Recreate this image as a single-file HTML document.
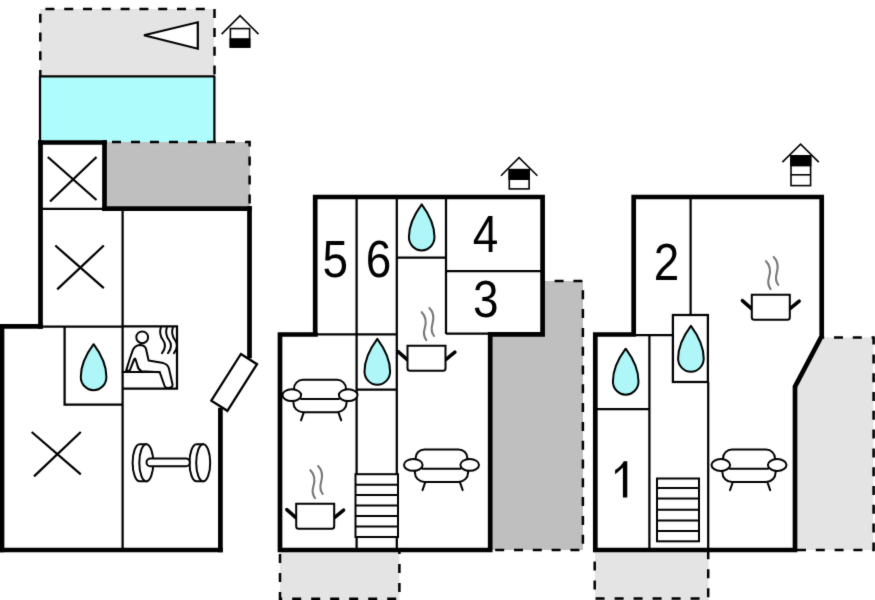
<!DOCTYPE html>
<html><head><meta charset="utf-8"><title>Floor plan</title>
<style>
html,body{margin:0;padding:0;background:#fff;width:875px;height:600px;overflow:hidden}
svg{display:block}
text{font-family:"Liberation Sans",sans-serif;font-size:51px;fill:#000;text-anchor:middle}
</style></head><body>
<svg width="875" height="600" viewBox="0 0 875 600">
<defs>
<filter id="soft" x="0" y="0" width="875" height="600" filterUnits="userSpaceOnUse" color-interpolation-filters="sRGB"><feConvolveMatrix order="3" kernelMatrix="0.0113 0.0838 0.0113 0.0838 0.6193 0.0838 0.0113 0.0838 0.0113" edgeMode="duplicate"/></filter>
<path id="drop" d="M0,-32.7 C8.2,-21.7 12.8,-12.3 12.8,0 A12.8,13.3 0 0 1 -12.8,0 C-12.8,-12.3 -8.2,-21.7 0,-32.7 Z" fill="#aef6f7" stroke="#000" stroke-width="2" stroke-linejoin="round"/>
<g id="sofa" fill="#fff" stroke="#000" stroke-width="2" stroke-linecap="round">
<path d="M-26,-5 V-6.5 A9,9 0 0 1 -17,-15.5 H17 A9,9 0 0 1 26,-6.5 V-5"/>
<path d="M-26.6,5 V7.5 A9.5,9.5 0 0 0 -17.1,17 H17.1 A9.5,9.5 0 0 0 26.6,7.5 V5"/>
<line x1="-19" y1="3.8" x2="19" y2="3.8"/>
<line x1="-16.3" y1="17.5" x2="-19" y2="25.2"/>
<line x1="18.5" y1="17.5" x2="21.2" y2="25.2"/>
<ellipse cx="-28.2" cy="0" rx="9.3" ry="5.9"/>
<ellipse cx="28.2" cy="0" rx="9.3" ry="5.9"/>
</g>
<g id="pot">
<g stroke="#777" stroke-width="2.1" fill="none" stroke-linecap="round">
<path d="M15,-33.1 C20,-28 19.5,-22 18,-17 C16.5,-12 17.5,-8 19.6,-5.1"/>
<path d="M22.7,-37.3 C27.7,-32.2 27.2,-26.2 25.7,-21.2 C24.2,-16.2 25.2,-12.2 27.3,-9.3"/>
</g>
<g stroke="#000" stroke-linecap="round">
<line x1="0.5" y1="14.3" x2="-8.6" y2="6.3" stroke-width="3.5"/>
<line x1="39" y1="14.3" x2="48.2" y2="6.8" stroke-width="3.5"/>
<path d="M0.8,0.5 H38.8 V23 A2.5,2.5 0 0 1 36.3,25.5 H3.3 A2.5,2.5 0 0 1 0.8,23 Z" fill="#fff" stroke-width="2"/>
</g>
</g>
</defs>
<g filter="url(#soft)">
<rect x="0" y="0" width="875" height="600" fill="#fff"/>

<!-- ============ PLAN 1 ============ -->
<rect x="40" y="9" width="174" height="67" fill="#e4e4e4"/>
<rect x="40" y="76" width="174" height="66" fill="#aefcfc"/>
<rect x="104" y="142" width="146" height="67" fill="#bfbfbf"/>
<g stroke="#000" stroke-width="2.5" fill="none">
<polyline points="40.3,76 40.3,9 214.5,9 214.5,76" stroke-dasharray="9 9.8" stroke-dashoffset="3.1"/>
<polyline points="104,142 249.6,142 249.6,209" stroke-dasharray="9 10" stroke-dashoffset="11"/>
</g>
<g stroke="#000" stroke-width="2.25" fill="none">
<line x1="39" y1="76.3" x2="215" y2="76.3"/>
<line x1="40" y1="76" x2="40" y2="142"/>
<line x1="214.4" y1="76" x2="214.4" y2="142"/>
<!-- interior thin lines -->
<line x1="42" y1="208.8" x2="103" y2="208.8"/>
<line x1="122.6" y1="210" x2="122.6" y2="548"/>
<line x1="42" y1="326.5" x2="123" y2="326.5"/>
<polyline points="64.6,326.5 64.6,404.5 122.6,404.5"/>
<polyline points="122.6,326.3 177,326.3 177,388.6 122.6,388.6"/>
<!-- X marks -->
<line x1="47.8" y1="157" x2="96.5" y2="200"/>
<line x1="96.5" y1="157" x2="50" y2="201.5"/>
<line x1="55.3" y1="245.5" x2="103.8" y2="288.2"/>
<line x1="103.8" y1="245.5" x2="57.2" y2="289.4"/>
<line x1="31.7" y1="432" x2="80.8" y2="474.4"/>
<line x1="80.8" y1="432" x2="34" y2="476.4"/>
</g>
<!-- thick walls -->
<g stroke="#000" stroke-width="4.7" fill="none" stroke-linecap="square">
<line x1="40.5" y1="142.5" x2="40.5" y2="326.3"/>
<line x1="40.5" y1="142.5" x2="104.5" y2="142.5"/>
<line x1="104.5" y1="142.5" x2="104.5" y2="208.7"/>
<line x1="104.5" y1="208.7" x2="249.5" y2="208.7"/>
<line x1="249.5" y1="208.7" x2="249.5" y2="356"/>
<line x1="2" y1="326.3" x2="40.5" y2="326.3"/>
<line x1="2" y1="326.3" x2="2" y2="550"/>
<line x1="2" y1="550" x2="220.4" y2="550"/>
<line x1="220.4" y1="410" x2="220.4" y2="550"/>
</g>
<!-- door -->
<polygon points="240.9,354 257,364.2 227.4,410.8 211.3,400.6" fill="#fff" stroke="#000" stroke-width="2.3"/>
<!-- triangle -->
<polygon points="144,35.3 197.8,22.3 197.8,48.7" fill="#fff" stroke="#000" stroke-width="2.2"/>
<!-- house 1 -->
<g stroke="#000" fill="none" stroke-width="1.6">
<polyline points="221.6,34.1 240.1,15.7 258.5,34.1"/>
<rect x="230.4" y="28.6" width="19.2" height="18.4" fill="#fff"/>
<rect x="230.4" y="39" width="19.2" height="8" fill="#000"/>
</g>
<!-- drop 1 -->
<use href="#drop" x="93.6" y="376.9"/>
<!-- sauna -->
<g stroke="#000" stroke-width="2" fill="none" stroke-linejoin="round" stroke-linecap="round">
<circle cx="142.2" cy="337.3" r="5.9"/>
<path d="M126.1,370.9 L129.7,359 L132.8,350.2 Q134.3,346 139.6,345 Q144.5,345 146,348.7 L148.6,360.5 L163.3,363.1 Q168,364.3 169,368.8 L172.6,384.8 Q172.5,388 168,388 Q165.5,388 164.8,386.5 L159.7,372.2 L141.5,371.2 Q138,369.5 137.3,365 L135.6,359.5 Q134.9,357.6 134.1,359.5 L129.7,370.6 Z"/>
<line x1="122.6" y1="371.9" x2="159.7" y2="371.9"/>
<path d="M160.8,327.5 C159.5,332 160,336 163,340 C166,344 166,348 162,353.2"/>
<path d="M166.8,327.5 C165.5,332 166,336 169,340 C172,344 172,348 168,353.2"/>
<path d="M172.8,327.5 C171.5,332 172,336 175,340 C178,344 178,348 174,353.2"/>
</g>
<!-- dumbbell -->
<g stroke="#000" stroke-width="2" fill="#fff">
<path d="M139.6,444.2 A7,18.5 0 0 0 139.6,481.2 L146.3,481.2 L146.3,444.2 Z"/>
<ellipse cx="146.3" cy="462.7" rx="7" ry="18.5"/>
<path d="M196.5,444.2 A7,18.5 0 0 0 196.5,481.2 L203.2,481.2 L203.2,444.2 Z"/>
<rect x="146.5" y="458.6" width="43.3" height="7.6" rx="3.8"/>
<ellipse cx="203.2" cy="462.7" rx="7" ry="18.5"/>
</g>

<!-- ============ PLAN 2 ============ -->
<rect x="542" y="281" width="41" height="269" fill="#bfbfbf"/>
<rect x="490" y="334" width="93" height="216" fill="#bfbfbf"/>
<rect x="280" y="551" width="119.4" height="49" fill="#e4e4e4"/>
<g stroke="#000" stroke-width="2.5" fill="none">
<polyline points="544,281 582.9,281 582.9,550 492,550" stroke-dasharray="9 9.8" stroke-dashoffset="8.2"/>
<polyline points="280,551 280,598.8 399.4,598.8 399.4,551" stroke-dasharray="9 10" stroke-dashoffset="16"/>
</g>
<g stroke="#000" stroke-width="2.25" fill="none">
<line x1="356.6" y1="199" x2="356.6" y2="548"/>
<line x1="396.8" y1="199" x2="396.8" y2="548"/>
<line x1="446" y1="199" x2="446" y2="334"/>
<line x1="397" y1="257.7" x2="446" y2="257.7"/>
<line x1="446" y1="271" x2="541" y2="271"/>
<line x1="446" y1="333.5" x2="489" y2="333.5"/>
<line x1="317" y1="334.3" x2="397" y2="334.3"/>
<line x1="357" y1="389.5" x2="397" y2="389.5"/>
</g>
<g stroke="#000" stroke-width="4.7" fill="none" stroke-linecap="square">
<polyline points="315.2,334.5 315.2,197 542.6,197 542.6,334.3 490.2,334.3 490.2,550 280,550 280,334.5 315.5,334.5"/>
</g>
<!-- stairs -->
<g stroke="#000" stroke-width="2" fill="#fff">
<rect x="355.5" y="474.2" width="42.5" height="62.8"/>
<line x1="355.5" y1="484.7" x2="398" y2="484.7"/>
<line x1="355.5" y1="495.1" x2="398" y2="495.1"/>
<line x1="355.5" y1="505.6" x2="398" y2="505.6"/>
<line x1="355.5" y1="516.1" x2="398" y2="516.1"/>
<line x1="355.5" y1="526.5" x2="398" y2="526.5"/>
</g>
<use href="#drop" x="421.7" y="237.1"/>
<use href="#drop" x="377.3" y="371.5"/>
<use href="#sofa" x="320" y="395.2"/>
<use href="#sofa" x="441.5" y="464.9"/>
<use href="#pot" x="406.7" y="345.3"/>
<use href="#pot" x="295.4" y="503.3"/>
<text transform="translate(335.15,277) scale(0.9,1)">5</text>
<text transform="translate(378.6,277) scale(0.9,1)">6</text>
<text transform="translate(485.6,252.2) scale(0.9,1)">4</text>
<text transform="translate(485.65,317.3) scale(0.9,1)">3</text>
<!-- house 2 -->
<g stroke="#000" fill="none" stroke-width="1.6">
<polyline points="501,175.7 519.1,157.6 537.4,175.7"/>
<rect x="509.3" y="169.7" width="19.8" height="19.2" fill="#fff"/>
<rect x="509.3" y="169.7" width="19.8" height="9.5" fill="#000"/>
</g>

<!-- ============ PLAN 3 ============ -->
<polygon points="821.7,337.5 873.3,337.5 873.3,550 797,550 797,386.7" fill="#e4e4e4"/>
<rect x="595" y="551" width="113.5" height="49" fill="#e4e4e4"/>
<g stroke="#000" stroke-width="2.5" fill="none">
<polyline points="823,337.6 873.6,337.6 873.6,550 797,550" stroke-dasharray="9 9.8" stroke-dashoffset="7.8"/>
<polyline points="594.7,551 594.7,598.6 708.2,598.6 708.2,551" stroke-dasharray="9 10" stroke-dashoffset="8.5"/>
</g>
<g stroke="#000" stroke-width="2.25" fill="none">
<line x1="690.6" y1="199" x2="690.6" y2="315"/>
<rect x="672.9" y="315" width="35" height="67"/>
<line x1="708.2" y1="382" x2="708.2" y2="548"/>
<line x1="636" y1="335" x2="672.6" y2="335"/>
<line x1="649.4" y1="335" x2="649.4" y2="548"/>
<line x1="597" y1="409" x2="649.4" y2="409"/>
</g>
<g stroke="#000" stroke-width="4.7" fill="none" stroke-linecap="square" stroke-linejoin="miter">
<polyline points="595.3,334.5 633.7,334.5 633.7,197 821.7,197 821.7,336 795,386.7 795,550 595.3,550 595.3,334.5"/>
</g>
<g stroke="#000" stroke-width="2" fill="#fff">
<rect x="657" y="478.5" width="42" height="62.8"/>
<line x1="657" y1="488.1" x2="699" y2="488.1"/>
<line x1="657" y1="498.5" x2="699" y2="498.5"/>
<line x1="657" y1="509.7" x2="699" y2="509.7"/>
<line x1="657" y1="520.6" x2="699" y2="520.6"/>
<line x1="657" y1="531" x2="699" y2="531"/>
</g>
<use href="#drop" x="690.9" y="358.5"/>
<use href="#drop" x="625.7" y="381.4"/>
<use href="#sofa" x="749" y="465"/>
<use href="#pot" x="751" y="294.3"/>
<text transform="translate(666.4,280.3) scale(0.9,1)">2</text>
<path d="M627.3,461.2 V497.5 H622.9 V467.6 C620.5,470 617.8,472.5 615.1,474.3 V469.9 C619,467.7 622,464.7 623.8,461.2 Z" fill="#000"/>
<!-- house 3 -->
<g stroke="#000" fill="none" stroke-width="1.6">
<polyline points="782.4,162.1 800.6,144.1 818.8,162.1"/>
<rect x="791" y="155.8" width="19.6" height="29.8" fill="#fff"/>
<rect x="791" y="155.8" width="19.6" height="9.8" fill="#000"/>
<line x1="791" y1="174.8" x2="810.6" y2="174.8"/>
</g>
</g>
</svg>
</body></html>
